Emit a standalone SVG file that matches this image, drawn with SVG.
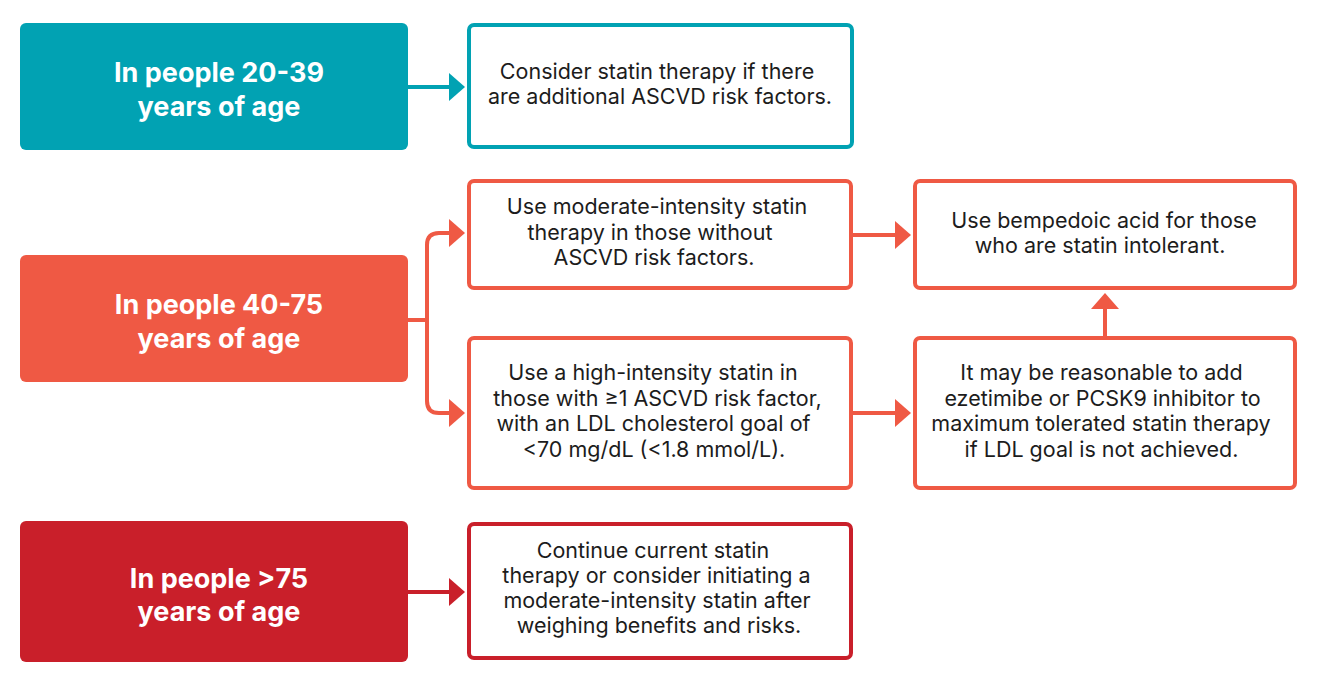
<svg xmlns="http://www.w3.org/2000/svg" width="1317" height="683" viewBox="0 0 1317 683">
<style>
.bg{fill:#ffffff}
.head{font-family:Inter,"Liberation Sans",sans-serif;font-weight:700;font-size:27px;fill:#ffffff;text-anchor:middle}
.body{font-family:Inter,"Liberation Sans",sans-serif;font-weight:400;font-size:21.5px;fill:#1c1c1c;text-anchor:middle}
.out{fill:#ffffff;stroke-width:4}
.teal{stroke:#01a2b3}
.sal{stroke:#ef5944}
.red{stroke:#c91f2a}
.ln{fill:none;stroke-width:4}
</style>
<defs>
<marker id="ahT" markerUnits="userSpaceOnUse" markerWidth="16" markerHeight="28" viewBox="0 0 16 28" refX="8" refY="14" orient="auto"><path d="M0,0 L16,14 L0,28 Z" fill="#01a2b3"/></marker>
<marker id="ahS" markerUnits="userSpaceOnUse" markerWidth="16" markerHeight="28" viewBox="0 0 16 28" refX="8" refY="14" orient="auto"><path d="M0,0 L16,14 L0,28 Z" fill="#ef5944"/></marker>
<marker id="ahR" markerUnits="userSpaceOnUse" markerWidth="16" markerHeight="28" viewBox="0 0 16 28" refX="8" refY="14" orient="auto"><path d="M0,0 L16,14 L0,28 Z" fill="#c91f2a"/></marker>
</defs>
<rect class="bg" x="0" y="0" width="1317" height="683"/>

<g id="connectors">
<path class="ln teal" d="M408,87 H457" marker-end="url(#ahT)"/>
<path class="ln sal" d="M408,320 H427"/>
<path class="ln sal" d="M427,320 V245 Q427,233 439,233 H457" marker-end="url(#ahS)"/>
<path class="ln sal" d="M427,320 V401 Q427,413 439,413 H457" marker-end="url(#ahS)"/>
<path class="ln sal" d="M853,235 H903" marker-end="url(#ahS)"/>
<path class="ln sal" d="M853,413 H903" marker-end="url(#ahS)"/>
<path class="ln sal" d="M1105,336 V301" marker-end="url(#ahS)"/>
<path class="ln red" d="M408,592 H457" marker-end="url(#ahR)"/>
</g>

<g id="age-20-39">
<rect x="20" y="23" width="388" height="127" rx="6" fill="#01a2b3"/>
<text class="head"><tspan x="219" y="82">In people 20-39</tspan><tspan x="219" y="116">years of age</tspan></text>
</g>
<g id="consider-statin">
<rect class="out teal" x="469" y="25" width="383" height="122" rx="5"/>
<text class="body"><tspan x="657" y="79">Consider statin therapy if there</tspan><tspan x="660" y="104">are additional ASCVD risk factors.</tspan></text>
</g>

<g id="age-40-75">
<rect x="20" y="255" width="388" height="127" rx="6" fill="#ef5944"/>
<text class="head"><tspan x="219" y="314">In people 40-75</tspan><tspan x="219" y="348">years of age</tspan></text>
</g>
<g id="moderate-intensity">
<rect class="out sal" x="469" y="181" width="382" height="107" rx="5"/>
<text class="body"><tspan x="657" y="214">Use moderate-intensity statin</tspan><tspan x="650" y="239.5">therapy in those without</tspan><tspan x="654" y="265">ASCVD risk factors.</tspan></text>
</g>
<g id="high-intensity">
<rect class="out sal" x="469" y="338" width="382" height="150" rx="5"/>
<text class="body"><tspan x="653" y="380">Use a high-intensity statin in</tspan><tspan x="657.5" y="405.5">those with ≥1 ASCVD risk factor,</tspan><tspan x="653.5" y="431">with an LDL cholesterol goal of</tspan><tspan x="654" y="456.5">&lt;70 mg/dL (&lt;1.8 mmol/L).</tspan></text>
</g>
<g id="bempedoic">
<rect class="out sal" x="915" y="181" width="380" height="107" rx="5"/>
<text class="body"><tspan x="1104" y="228">Use bempedoic acid for those</tspan><tspan x="1100" y="253">who are statin intolerant.</tspan></text>
</g>
<g id="ezetimibe">
<rect class="out sal" x="915" y="338" width="380" height="150" rx="5"/>
<text class="body"><tspan x="1101.5" y="380">It may be reasonable to add</tspan><tspan x="1102.5" y="405.5">ezetimibe or PCSK9 inhibitor to</tspan><tspan x="1101" y="431">maximum tolerated statin therapy</tspan><tspan x="1101.5" y="456.5">if LDL goal is not achieved.</tspan></text>
</g>

<g id="age-over-75">
<rect x="20" y="521" width="388" height="141" rx="6" fill="#c91f2a"/>
<text class="head"><tspan x="219" y="588">In people &gt;75</tspan><tspan x="219" y="621">years of age</tspan></text>
</g>
<g id="continue-statin">
<rect class="out red" x="469" y="524" width="382" height="134" rx="5"/>
<text class="body"><tspan x="653" y="558">Continue current statin</tspan><tspan x="656.5" y="583">therapy or consider initiating a</tspan><tspan x="657" y="608">moderate-intensity statin after</tspan><tspan x="659" y="633">weighing benefits and risks.</tspan></text>
</g>
</svg>
